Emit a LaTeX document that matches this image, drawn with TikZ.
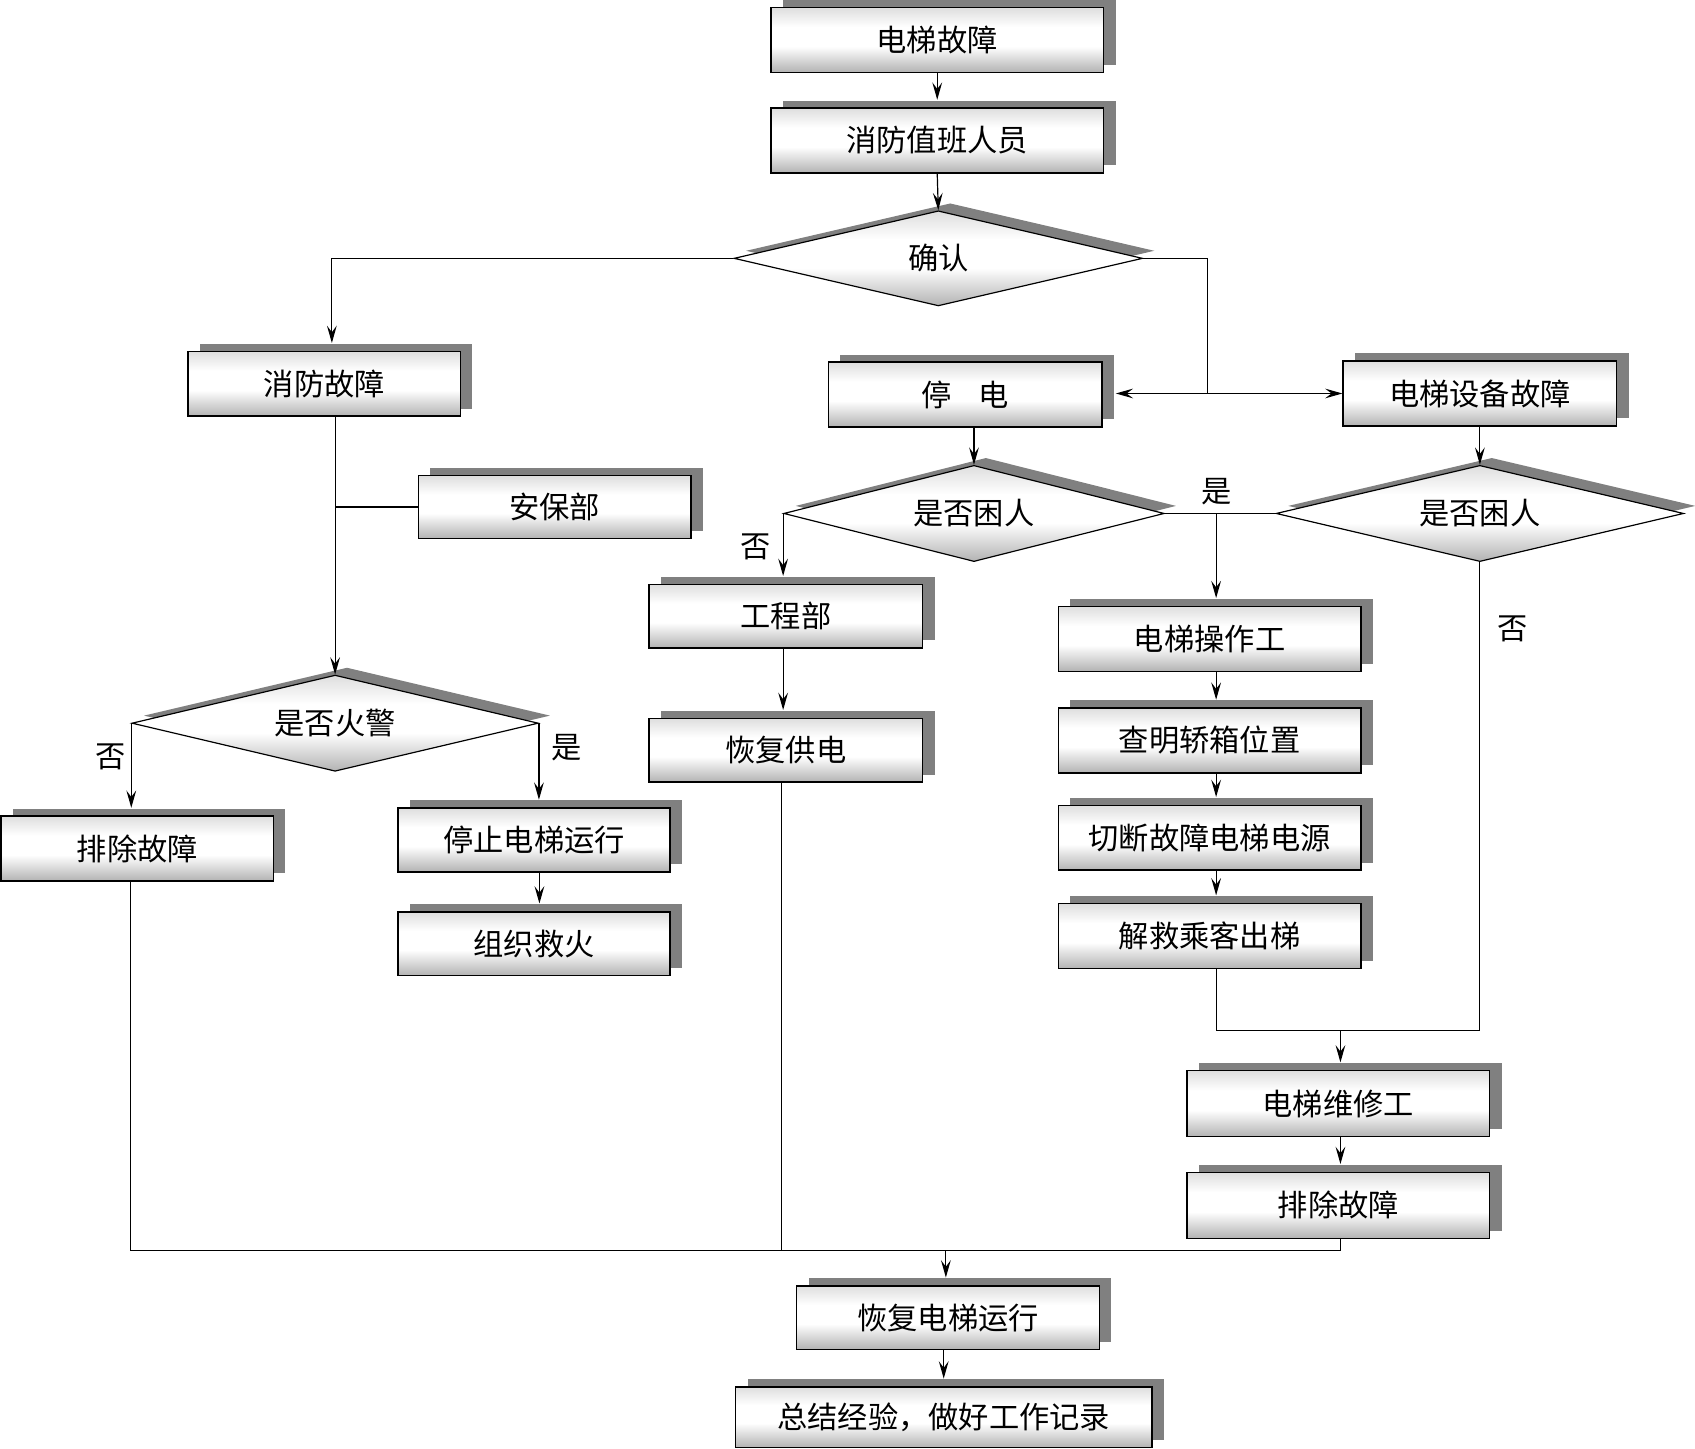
\documentclass[tikz,border=0pt]{standalone}
\usepackage{fontspec}
\newfontfamily\cjk{Noto Sans CJK SC}
\usetikzlibrary{shapes.geometric,shadows,arrows.meta,calc}
\pgfdeclareverticalshading{boxshade}{100bp}{color(0bp)=(black!30); color(25bp)=(black!30); color(45bp)=(white); color(60bp)=(white); color(75bp)=(black!13); color(100bp)=(black!13)}
\begin{document}
\begin{tikzpicture}[x=1pt,y=-1pt,
  txt/.style={font=\cjk\fontsize{28}{30}\selectfont},
  box/.style={txt, draw, line width=1.4pt, rectangle, minimum width=252pt, minimum height=60pt, inner sep=0pt, shading=boxshade, drop shadow={shadow xshift=11pt, shadow yshift=7pt, fill=black!50, opacity=1}},
  wbox/.style={box, minimum width=280pt},
  dia/.style={txt, draw, line width=1.1pt, diamond, aspect=4.3, inner sep=0pt, shading=boxshade, drop shadow={shadow xshift=11pt, shadow yshift=7pt, fill=black!50, opacity=1}},
  ln/.style={line width=1.1pt},
  arr/.style={ln, -{Stealth[length=16pt,width=9pt,inset=6pt]}},
  arrb/.style={arr, shorten >=7pt},
  lbl/.style={txt, inner sep=0pt}]
\useasboundingbox (0,0) rectangle (1568,1340);
% nodes
\node[box, minimum width=308pt] (b1) at (867,37) {电梯故障};
\node[box, minimum width=308pt] (b2) at (867,130) {消防值班人员};
\node[dia, minimum width=378pt, minimum height=88pt] (d1) at (868,239) {确认};
\node[box] (xf) at (300,355) {消防故障};
\node[box, minimum height=58pt] (ab) at (513,469) {安保部};
\node[dia, minimum width=376pt, minimum height=89pt] (d2) at (310,669) {是否火警};
\node[box] (pc1) at (127,785) {排除故障};
\node[box, minimum height=59pt] (stop) at (494,777) {停止电梯运行};
\node[box, minimum height=59pt] (fire) at (494,873) {组织救火};
\node[box, minimum width=253pt] (td) at (893,365) {停\hspace{0.9em}电};
\node[box, minimum width=253pt] (eq) at (1369,364) {电梯设备故障};
\node[dia, minimum width=352pt, minimum height=89pt] (d3) at (901,475) {是否困人};
\node[dia, minimum width=377pt, minimum height=89pt] (d4) at (1369,475) {是否困人};
\node[box, minimum width=253pt, minimum height=59pt] (gc) at (727,570) {工程部};
\node[box, minimum width=253pt, minimum height=59pt] (rs) at (727,694) {恢复供电};
\node[wbox] (op) at (1119,591) {电梯操作工};
\node[wbox] (ch) at (1119,685) {查明轿箱位置};
\node[wbox] (cut) at (1119,775) {切断故障电梯电源};
\node[wbox] (res) at (1119,866) {解救乘客出梯};
\node[wbox, minimum height=61pt] (wx) at (1238,1021) {电梯维修工};
\node[wbox, minimum height=61pt] (pc2) at (1238,1115) {排除故障};
\node[wbox, minimum height=59pt] (hf) at (877,1219) {恢复电梯运行};
\node[box, minimum width=385pt, minimum height=56pt] (sum) at (873,1311) {总结经验，做好工作记录};
% labels
\node[lbl] (l1) at (102,700) {否};
\node[lbl] (l2) at (524,692) {是};
\node[lbl] (l3) at (699,506) {否};
\node[lbl] (l4) at (1125,455) {是};
\node[lbl] (l5) at (1399,582) {否};
% coordinates
\coordinate (j1) at (1117,364);
\coordinate (j2) at (1125,475);
\coordinate (j3) at (1240,953);
\coordinate (j4) at (875,1157);
\coordinate (j5) at (723,1157);
\coordinate (j6) at (121,1157);
% connectors
\draw[arrb] (b1.south) -- (b2.north);
\draw[arr] (b2.south) -- (d1.north);
\draw[arrb] (d1.west) -| ([xshift=7pt]xf.north);
\draw[ln] (d1.east) -| (j1);
\draw[arr, shorten >=12pt] (j1) -- (j1 -| td.east);
\draw[arr] (j1) -- (j1 -| eq.west);
\draw[arr] ([xshift=10pt]xf.south) -- (d2.north);
\draw[ln] (d2.north |- ab.west) -- (ab.west);
\draw[arrb] (d2.west) -- (d2.west |- pc1.north);
\draw[arrb] (d2.east) -- (d2.east |- stop.north);
\draw[arrb] ([xshift=5pt]stop.south) -- ([xshift=5pt]fire.north);
\draw[arr] (d3.north |- td.south) -- (d3.north);
\draw[arr] (eq.south) -- (d4.north);
\draw[ln] (d3.east) -- (d4.west);
\draw[arrb] (j2) -- (j2 |- op.north);
\draw[arrb] (d3.west) -- (d3.west |- gc.north);
\draw[arrb] (d3.west |- gc.south) -- (d3.west |- rs.north);
\draw[ln] (j5 |- rs.south) -- (j5);
\draw[arrb] (j2 |- op.south) -- (j2 |- ch.north);
\draw[arrb] (j2 |- ch.south) -- (j2 |- cut.north);
\draw[arrb] (j2 |- cut.south) -- (j2 |- res.north);
\draw[ln] (j2 |- res.south) |- (j3) -| (d4.south);
\draw[arrb] (j3) -- (j3 |- wx.north);
\draw[arrb] (j3 |- wx.south) -- (j3 |- pc2.north);
\draw[ln] (j3 |- pc2.south) |- (j6) -- (j6 |- pc1.south);
\draw[arrb] (j4) -- (j4 |- hf.north);
\draw[arrb] ([xshift=-4pt]hf.south) -- ([xshift=-4pt]hf.south |- sum.north);
\end{tikzpicture}
\end{document}
